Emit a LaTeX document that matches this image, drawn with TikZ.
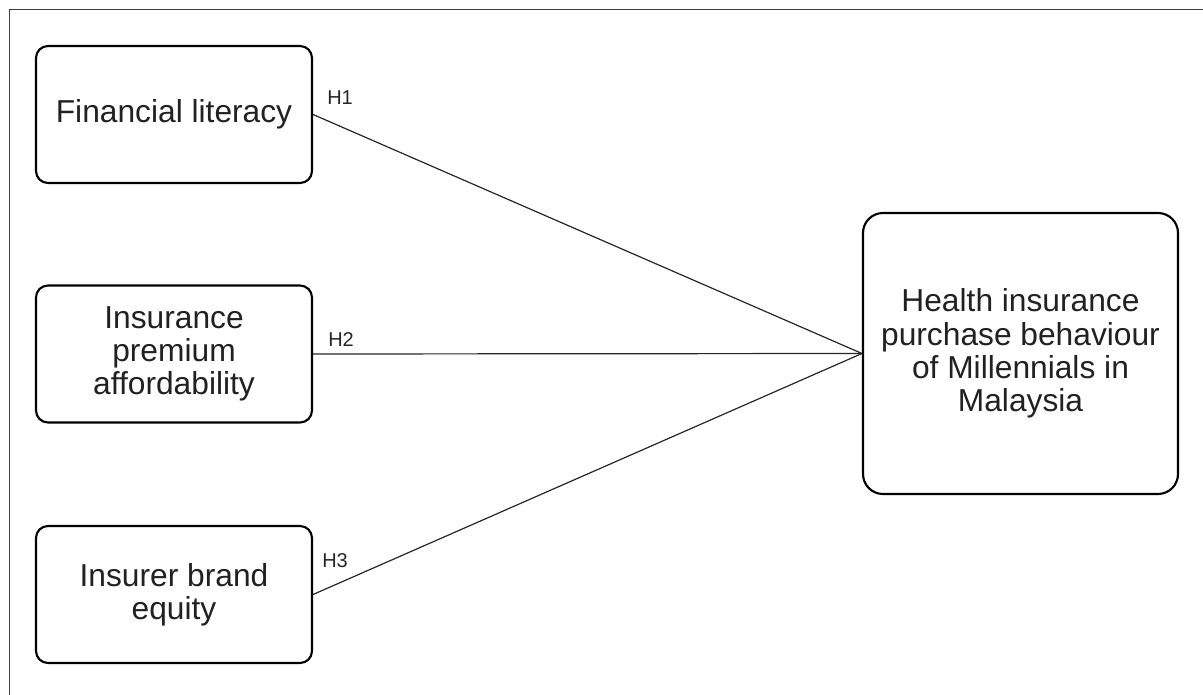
\documentclass[tikz,border=0pt]{standalone}
\usepackage{fontspec}
\setmainfont{Liberation Sans}
\begin{document}
\begin{tikzpicture}[x=0.75pt,y=-0.75pt,
  box/.style={draw=black,line width=1.6pt,rounded corners=9pt,align=center,inner sep=0pt,
    text=black!87,font=\fontsize{23.8}{25}\selectfont},
  small/.style={box,minimum width=207pt,minimum height=102.75pt},
  conn/.style={draw=black!85,line width=0.9pt},
  hlab/.style={anchor=base west,inner sep=0pt,text=black!85,font=\fontsize{15}{18}\selectfont},
  frame/.style={draw=black!75,line width=1.3pt}]
\useasboundingbox (0,0) rectangle (1203,695);
\draw[frame] (9.5,695) -- (9.5,9.5) -- (1203,9.5);
\node[small] (b1) at (174,114.5) {Financial literacy};
\node[small] (b2) at (174,354) {Insurance\\premium\\affordability};
\node[small] (b3) at (174,594.5) {Insurer brand\\equity};
\node[box,minimum width=236.25pt,minimum height=210.75pt,rounded corners=15pt] (big) at (1020.5,353.5)
  {Health insurance\\purchase behaviour\\of Millennials in\\Malaysia};
\draw[conn] (b1.east) -- (big.west);
\draw[conn] (b2.east) -- (big.west);
\draw[conn] (b3.east) -- (big.west);
\node[hlab] (h1) at (327,105) {H1};
\node[hlab] (h2) at (328,346) {H2};
\node[hlab] (h3) at (322,567) {H3};
\end{tikzpicture}
\end{document}
